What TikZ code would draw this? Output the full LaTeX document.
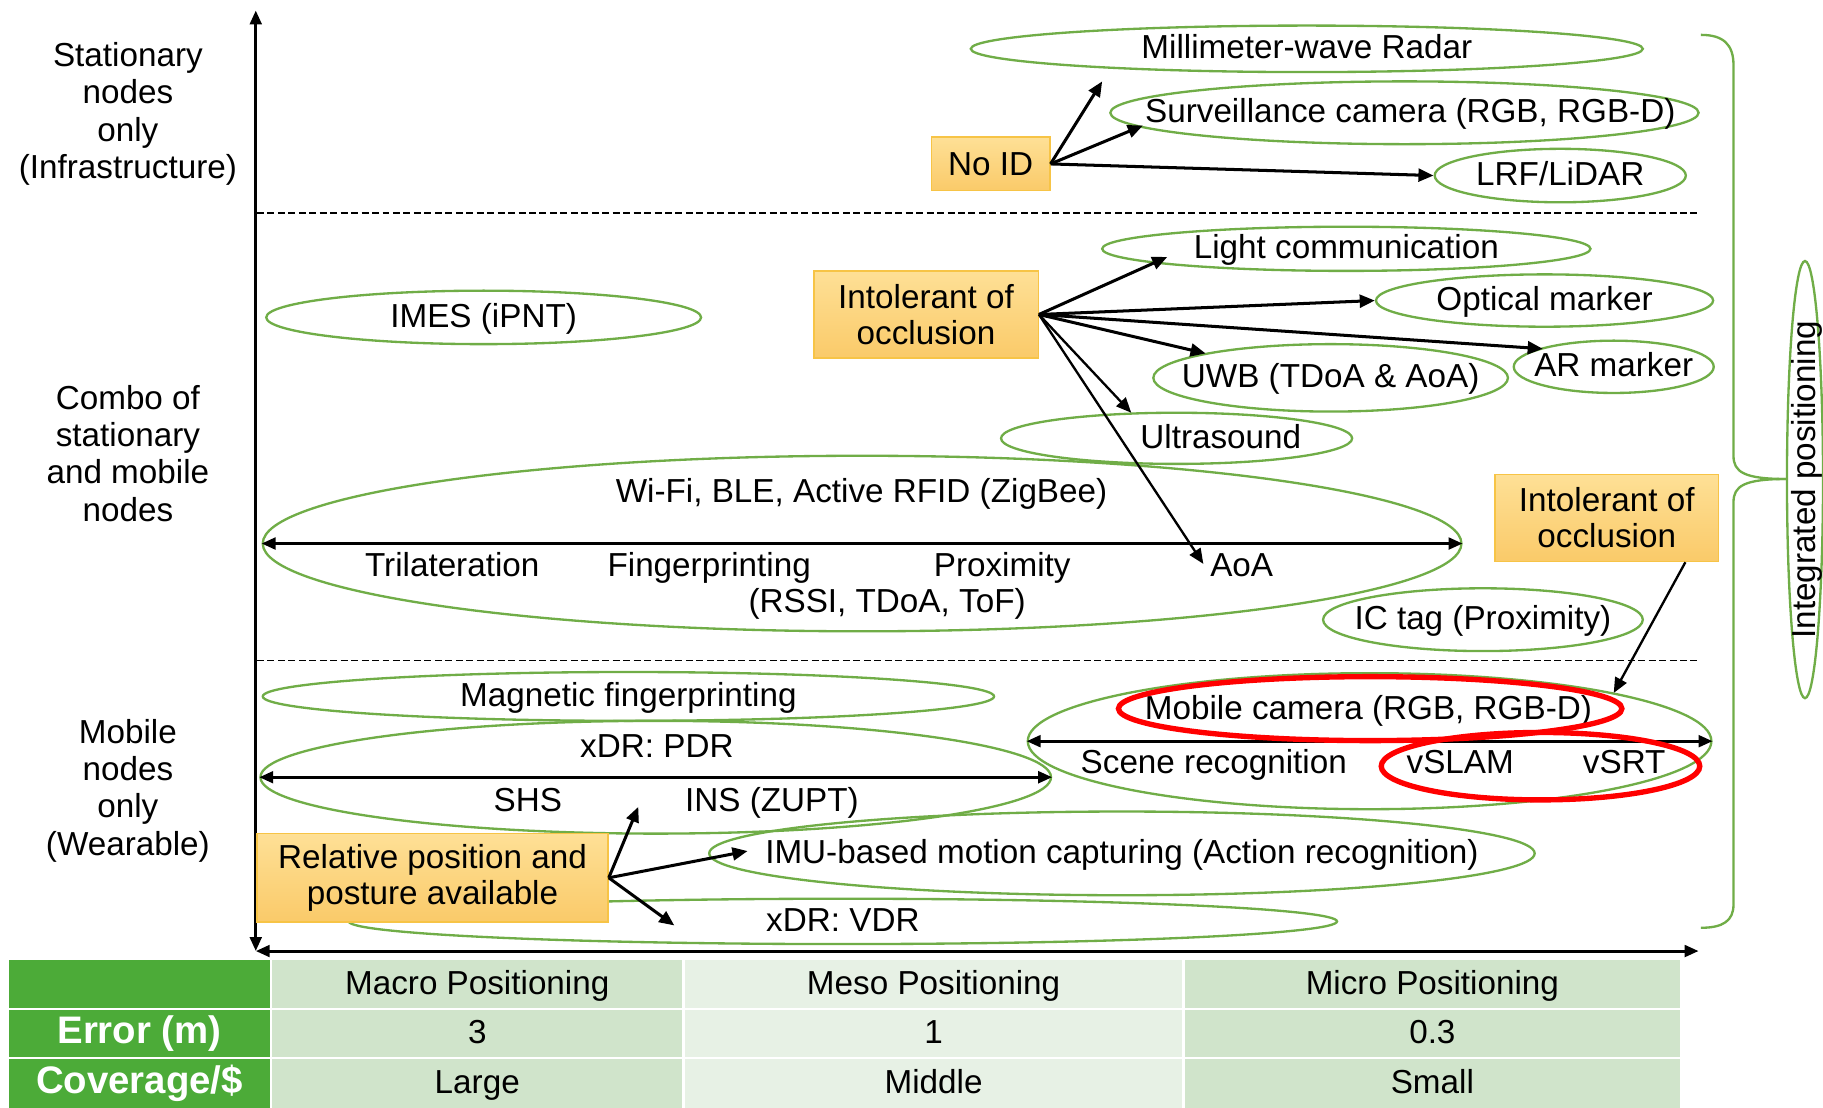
\documentclass[tikz,border=0pt]{standalone}
\usepackage{fontspec}
\setmainfont{Liberation Sans}
\usetikzlibrary{arrows.meta,shapes.geometric,calc}
\definecolor{egreen}{RGB}{112,173,71}
\definecolor{tgreen}{RGB}{76,171,56}
\definecolor{tlight}{RGB}{208,228,203}
\definecolor{tlighter}{RGB}{231,241,229}
\definecolor{otop}{RGB}{254,224,150}
\definecolor{obot}{RGB}{250,202,105}
\definecolor{oborder}{RGB}{247,196,70}
\newcommand{\elltxt}[1]{\makebox[0pt]{#1}}
\begin{document}
\begin{tikzpicture}[x=0.5pt,y=-0.5pt,
  font=\fontsize{14.3}{16}\selectfont,
  ell/.style 2 args={ellipse, draw=egreen, line width=1pt, minimum width=#1pt, minimum height=#2pt, inner sep=0pt, text height=0.96em, text depth=0.1em},
  rell/.style 2 args={ellipse, draw=red, line width=2.3pt, minimum width=#1pt, minimum height=#2pt, inner sep=0pt},
  lbl/.style={inner sep=0pt, text height=0.96em, text depth=0.1em},
  mlbl/.style={inner sep=0pt, align=center},
  obox/.style 2 args={rectangle, draw=oborder, line width=0.6pt, top color=otop, bottom color=obot, minimum width=#1pt, minimum height=#2pt, inner sep=0pt, align=center, font=\fontsize{14.3}{15.5}\selectfont},
  arr/.style={-{Triangle[length=6.5pt,width=5.5pt]}, line width=1.3pt},
  darr/.style={{Triangle[length=6pt,width=5pt]}-{Triangle[length=6pt,width=5pt]}, line width=1.3pt},
  sep/.style={dashed, dash pattern=on 3pt off 1.5pt, line width=0.75pt},
  cell/.style={rectangle, inner sep=0pt, text height=0.96em, text depth=0.1em},
  hcell/.style={cell, fill=tgreen, text=white, font=\fontsize{16.5}{18}\selectfont\bfseries},
]
\fill[white] (0,0) rectangle (1568,953);
\useasboundingbox (0,0) rectangle (1568,953);

% axes
\coordinate (ytop) at (220,9);
\coordinate (O) at (220,818);
\coordinate (xend) at (1461,818);
\draw[darr] (ytop) -- (O);
\draw[darr] (O) -- (xend);

% separators
\draw[sep] (221,183) -- (1460,183);
\draw[sep] (221,568) -- (1460,568);

% row labels
\node[mlbl] (lab1) at (110,98) {Stationary\\nodes\\only\\(Infrastructure)};
\node[mlbl] (lab2) at (110,390) {Combo of\\stationary\\and mobile\\nodes};
\node[mlbl] (lab3) at (110,680) {Mobile\\nodes\\only\\(Wearable)};

% top band
\node[ell={289}{20}] (mmw) at (1124,42) {\elltxt{Millimeter-wave Radar}};
\node[ell={253}{27}] (surv) at (1208,97) {\elltxt{\hspace{5pt}Surveillance camera (RGB, RGB-D)}};
\node[ell={108}{23}] (lrf) at (1342,151) {\elltxt{LRF/LiDAR}};

% middle band
\node[ell={187}{23}] (imes) at (416,273) {\elltxt{IMES (iPNT)}};
\node[ell={210}{19}] (light) at (1158,214) {\elltxt{Light communication}};
\node[ell={145}{22.5}] (opt) at (1328.5,258.5) {\elltxt{Optical marker}};
\node[ell={86}{22.5}] (ar) at (1388,315.5) {\elltxt{AR marker}};
\node[ell={152.5}{29}] (uwb) at (1144.5,325) {\elltxt{UWB (TDoA \& AoA)}};
\node[ell={151}{22}] (ultra) at (1012,377) {};
\node[lbl] (ultrat) at (1050,377) {Ultrasound};
\node[ell={515.5}{75.5}] (wifi) at (741.5,467.5) {};
\node[lbl] (wifit) at (741,424) {Wi-Fi, BLE, Active RFID (ZigBee)};
\node[lbl] (tri) at (389,487) {Trilateration};
\node[lbl] (fp) at (610,487) {Fingerprinting};
\node[lbl] (prox) at (862,487) {Proximity};
\node[lbl] (aoa) at (1068,487) {AoA};
\node[lbl] (rssi) at (763,518) {(RSSI, TDoA, ToF)};
\node[ell={137.5}{27}] (ictag) at (1275.5,533) {\elltxt{IC tag (Proximity)}};
\draw[darr] (wifi.west) -- (wifi.east);

% bottom band
\node[ell={314.5}{21}] (mag) at (540.5,599) {\elltxt{Magnetic fingerprinting}};
\node[ell={340}{48.5}] (pdr) at (564,668.5) {};
\node[lbl] (pdrt) at (565,643) {xDR: PDR};
\node[lbl] (shs) at (454,689) {SHS};
\node[lbl] (ins) at (664,689) {INS (ZUPT)};
\draw[darr] (pdr.west) -- (pdr.east);
\node[ell={294}{58.5}] (mcam) at (1178,637.5) {};
\node[lbl] (mcamt) at (1177,610) {Mobile camera (RGB, RGB-D)};
\node[lbl] (scene) at (1044,657) {Scene recognition};
\node[lbl] (vslam) at (1256,657) {vSLAM};
\node[lbl] (vsrt) at (1397,657) {vSRT};
\draw[darr] (mcam.west) -- (mcam.east);
\node[rell={216.5}{27.5}] (rcam) at (1178.5,609.5) {};
\node[rell={137}{29}] (rslam) at (1325,659) {};
\node[ell={355}{36}] (imu) at (965,734) {\elltxt{IMU-based motion capturing (Action recognition)}};
\node[ell={425}{19.5}] (vdr) at (725,792.5) {\elltxt{xDR: VDR}};

% integrated positioning
\draw[egreen, line width=1pt] (1463,30) .. controls (1482,30) and (1491,38) .. (1491,56) -- (1491,392)
  .. controls (1491,406) and (1500,412) .. (1537,412);
\draw[egreen, line width=1pt] (1537,412) .. controls (1500,412) and (1491,418) .. (1491,432) -- (1491,778)
  .. controls (1491,792) and (1482,798) .. (1463,798);
\node[ell={188}{15.5}, rotate=90] (integ) at (1552.5,412.5) {\elltxt{Integrated positioning}};

% orange boxes
\node[obox={51}{23}] (noid) at (852,141) {No ID};
\node[obox={96.5}{37.5}] (io1) at (796.5,270.5) {Intolerant of\\occlusion};
\node[obox={96}{37.5}] (io2) at (1382,445.5) {Intolerant of\\occlusion};
\node[obox={151}{38}] (rel) at (372,755) {Relative position and\\posture available};

% arrow targets
\coordinate (t1) at (948,70);
\coordinate (t2) at (983,108);
\coordinate (t3) at (1004,221);
\coordinate (t4) at (1327,300);
\coordinate (t5) at (1037,304);
\coordinate (t6) at (973,355);
\coordinate (t7) at (1035,485);
\coordinate (t8) at (1388,596);
\coordinate (t9) at (549,694);
\coordinate (t10) at (643,732);
\coordinate (t11) at (580,796);

\draw[arr] (noid.east) -- (t1);
\draw[arr] (noid.east) -- (t2);
\draw[arr] (noid.east) -- (lrf.west);
\draw[arr] (io1.east) -- (t3);
\draw[arr] (io1.east) -- (opt.west);
\draw[arr] (io1.east) -- (t4);
\draw[arr] (io1.east) -- (t5);
\draw[arr, line width=1pt] (io1.east) -- (t6);
\draw[arr, line width=1pt] (io1.east) -- (t7);
\draw[arr, line width=1pt] ([xshift=-14.5pt]io2.south east) -- (t8);
\draw[arr] (rel.east) -- (t9);
\draw[arr] (rel.east) -- (t10);
\draw[arr] (rel.east) -- (t11);

% table
\node[hcell, minimum width=112pt, minimum height=20.5pt] (h0) at (120,846.5) {};
\node[hcell, minimum width=112pt, minimum height=20pt] (h1) at (120,889) {Error (m)};
\node[hcell, minimum width=112pt, minimum height=21pt] (h2) at (120,932) {Coverage/\$};
\node[cell, fill=tlight, minimum width=176.5pt, minimum height=20.5pt] (c01) at (410.5,846.5) {Macro Positioning};
\node[cell, fill=tlighter, minimum width=214pt, minimum height=20.5pt] (c02) at (803,846.5) {Meso Positioning};
\node[cell, fill=tlight, minimum width=213pt, minimum height=20.5pt] (c03) at (1232,846.5) {Micro Positioning};
\node[cell, fill=tlight, minimum width=176.5pt, minimum height=20pt] (c11) at (410.5,889) {3};
\node[cell, fill=tlighter, minimum width=214pt, minimum height=20pt] (c12) at (803,889) {1};
\node[cell, fill=tlight, minimum width=213pt, minimum height=20pt] (c13) at (1232,889) {0.3};
\node[cell, fill=tlight, minimum width=176.5pt, minimum height=21pt] (c21) at (410.5,932) {Large};
\node[cell, fill=tlighter, minimum width=214pt, minimum height=21pt] (c22) at (803,932) {Middle};
\node[cell, fill=tlight, minimum width=213pt, minimum height=21pt] (c23) at (1232,932) {Small};
\end{tikzpicture}
\end{document}
